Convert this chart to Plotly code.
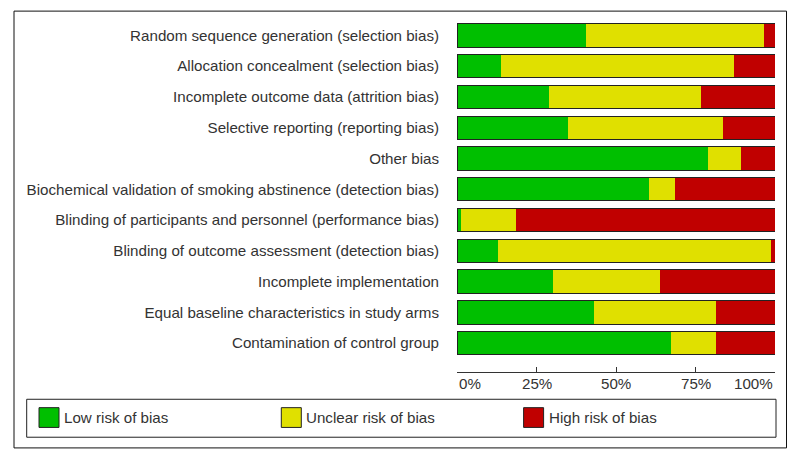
import plotly.graph_objects as go

# ---- data (percent of studies) ----
categories = [
    "Random sequence generation (selection bias)",
    "Allocation concealment (selection bias)",
    "Incomplete outcome data (attrition bias)",
    "Selective reporting (reporting bias)",
    "Other bias",
    "Biochemical validation of smoking abstinence (detection bias)",
    "Blinding of participants and personnel (performance bias)",
    "Blinding of outcome assessment (detection bias)",
    "Incomplete implementation",
    "Equal baseline characteristics in study arms",
    "Contamination of control group",
]
low_risk = [40.6, 13.8, 29.0, 34.8, 78.9, 60.4, 1.2, 12.8, 30.2, 43.0, 67.4]
unclear_risk = [55.8, 73.3, 47.6, 48.8, 10.5, 8.2, 17.4, 85.9, 33.7, 38.4, 14.0]
high_risk = [3.6, 12.9, 23.4, 16.4, 10.6, 31.4, 81.4, 1.3, 36.1, 18.6, 18.6]

series_names = ["Low risk of bias", "Unclear risk of bias", "High risk of bias"]
series_colors = ["#00BF00", "#E0E000", "#C00000"]
tick_vals = [0, 25, 50, 75, 100]
tick_labels = ["0%", "25%", "50%", "75%", "100%"]

# ---- layout constants (pixels) ----
W, H = 800, 460
PX0, PX1 = 457, 775      # plot area x
PY0, PY1 = 19.6, 372     # plot area y (top, bottom)
PW, PH = PX1 - PX0, PY1 - PY0
FONT = "Liberation Sans, Arial, sans-serif"
FS = 15.15
TXT = "#333333"


def px(x):
    return (x - PX0) / PW


def py(y):
    return (PY1 - y) / PH


fig = go.Figure()
for name, vals, col in zip(series_names, [low_risk, unclear_risk, high_risk], series_colors):
    fig.add_trace(go.Bar(
        y=categories, x=vals, name=name, orientation="h",
        marker=dict(color=col, line=dict(width=0)),
        showlegend=False,
    ))

# outline around each whole bar (total of the three series)
totals = [a + b + c for a, b, c in zip(low_risk, unclear_risk, high_risk)]
fig.add_trace(go.Bar(
    y=categories, x=totals, orientation="h", xaxis="x2",
    marker=dict(color="rgba(0,0,0,0)", line=dict(color="#222222", width=1)),
    showlegend=False, hoverinfo="skip",
))

fig.update_layout(
    width=W, height=H, autosize=False,
    margin=dict(l=PX0, r=W - PX1, t=PY0, b=H - PY1, pad=0, autoexpand=False),
    barmode="stack", bargap=0.24,
    paper_bgcolor="white", plot_bgcolor="white",
    font=dict(family=FONT, size=FS, color=TXT),
    xaxis=dict(
        range=[0, 100], tickvals=tick_vals, showticklabels=False,
        showgrid=False, zeroline=False, showline=True, linecolor="#333333", linewidth=1,
        ticks="inside", ticklen=5, tickcolor="#333333", automargin=False,
        fixedrange=True,
    ),
    xaxis2=dict(range=[0, 100], overlaying="x", visible=False, fixedrange=True,
                automargin=False),
    yaxis=dict(
        range=[10.94, -0.5], showgrid=False, zeroline=False, showline=False,
        ticks="", ticklabelstandoff=17, automargin=False,
        tickfont=dict(family=FONT, size=FS, color=TXT),
        fixedrange=True,
    ),
    showlegend=False,
)

shapes = []
annotations = []
# x tick labels: end labels kept inside the axis span, as in the original
for i, (tv, tl) in enumerate(zip(tick_vals, tick_labels)):
    anchor = "left" if i == 0 else ("right" if i == len(tick_vals) - 1 else "center")
    annotations.append(dict(xref="x", yref="paper", x=tv, y=py(383.5),
                            xanchor=anchor, yanchor="middle", showarrow=False,
                            text=tl, font=dict(family=FONT, size=FS, color=TXT)))
# outer frame
shapes.append(dict(type="rect", xref="paper", yref="paper",
                   x0=px(14), x1=px(786.5), y0=py(10.7), y1=py(448),
                   line=dict(color="#111111", width=1), fillcolor="rgba(0,0,0,0)", layer="below"))
# legend box
shapes.append(dict(type="rect", xref="paper", yref="paper",
                   x0=px(26.7), x1=px(776), y0=py(399.3), y1=py(437.3),
                   line=dict(color="#222222", width=1), fillcolor="rgba(0,0,0,0)"))
LEG_X0, LEG_STEP, SW = 39, 242.3, 20
for i, (name, col) in enumerate(zip(series_names, series_colors)):
    x0 = LEG_X0 + i * LEG_STEP
    shapes.append(dict(type="rect", xref="paper", yref="paper",
                       x0=px(x0), x1=px(x0 + SW), y0=py(407.7), y1=py(427.5),
                       line=dict(color="#222222", width=1), fillcolor=col))
    annotations.append(dict(xref="paper", yref="paper", x=px(x0 + SW + 3), y=py(418),
                            xanchor="left", yanchor="middle", showarrow=False,
                            text=name, font=dict(family=FONT, size=FS, color=TXT)))

fig.update_layout(shapes=shapes, annotations=annotations)
fig.write_html(
    "out.html",
    config=dict(displayModeBar=False, responsive=False),
    post_script="document.body.style.margin='0';document.body.style.overflow='hidden';",
)
